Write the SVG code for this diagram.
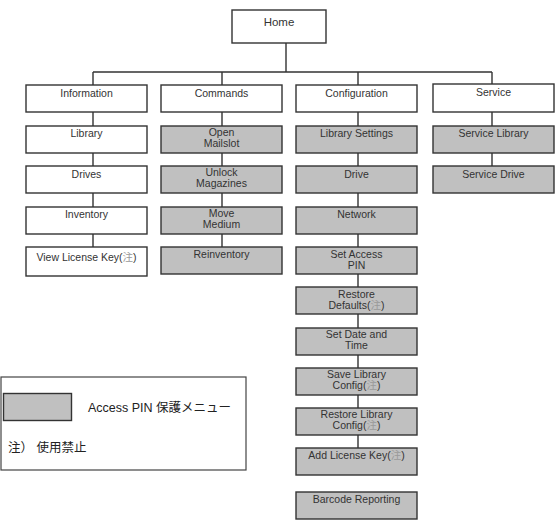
<svg xmlns="http://www.w3.org/2000/svg" width="556" height="528" viewBox="0 0 556 528">
<style>
.n{fill:#fff;stroke:#333;stroke-width:1.4}
.g{fill:#c0c0c0;stroke:#333;stroke-width:1.4}
.t{font-family:"Liberation Sans","Noto Sans CJK JP",sans-serif;font-size:10.5px;fill:#333;text-anchor:middle}
.c{stroke:#333;stroke-width:1.4;fill:none}
.k{fill:#999}
.lg{font-family:"Liberation Sans","Noto Sans CJK JP",sans-serif;font-size:12.5px;fill:#222}
</style>
<rect width="556" height="528" fill="#fff"/>
<g id="connectors">
<path class="c" d="M286 43V72M93 72H492M93 72V247M222 72V247M358 72V448M492 72V166"/>
</g>
<g id="home"><rect class="n" x="232" y="10" width="94" height="33"/><text class="t" x="279" y="26" style="font-size:11.5px">Home</text></g>
<g id="information"><rect class="n" x="26" y="85" width="121" height="27"/><text class="t" x="86.5" y="97">Information</text></g>
<g id="library"><rect class="n" x="26" y="126" width="121" height="27"/><text class="t" x="86.5" y="137">Library</text></g>
<g id="drives"><rect class="n" x="26" y="166" width="121" height="27"/><text class="t" x="86.5" y="178">Drives</text></g>
<g id="inventory"><rect class="n" x="26" y="207" width="121" height="27"/><text class="t" x="86.5" y="218">Inventory</text></g>
<g id="view-license-key"><rect class="n" x="26" y="247" width="121" height="29"/><text class="t" x="86.5" y="261">View License Key(<tspan class="k">注</tspan>)</text></g>
<g id="commands"><rect class="n" x="161" y="85" width="121" height="27"/><text class="t" x="221.5" y="97">Commands</text></g>
<g id="open-mailslot"><rect class="g" x="161" y="126" width="121" height="27"/><text class="t" x="221.5" y="135.5">Open</text><text class="t" x="221.5" y="146.5">Mailslot</text></g>
<g id="unlock-magazines"><rect class="g" x="161" y="166" width="121" height="27"/><text class="t" x="221.5" y="176">Unlock</text><text class="t" x="221.5" y="187">Magazines</text></g>
<g id="move-medium"><rect class="g" x="161" y="207" width="121" height="27"/><text class="t" x="221.5" y="217">Move</text><text class="t" x="221.5" y="228">Medium</text></g>
<g id="reinventory"><rect class="g" x="161" y="247" width="121" height="27"/><text class="t" x="221.5" y="257.5">Reinventory</text></g>
<g id="configuration"><rect class="n" x="296" y="85" width="121" height="27"/><text class="t" x="356.5" y="97">Configuration</text></g>
<g id="library-settings"><rect class="g" x="296" y="126" width="121" height="27"/><text class="t" x="356.5" y="137">Library Settings</text></g>
<g id="drive"><rect class="g" x="296" y="166" width="121" height="27"/><text class="t" x="356.5" y="178">Drive</text></g>
<g id="network"><rect class="g" x="296" y="207" width="121" height="27"/><text class="t" x="356.5" y="218">Network</text></g>
<g id="set-access-pin"><rect class="g" x="296" y="247" width="121" height="27"/><text class="t" x="356.5" y="258">Set Access</text><text class="t" x="356.5" y="269">PIN</text></g>
<g id="restore-defaults"><rect class="g" x="296" y="287" width="121" height="27"/><text class="t" x="356.5" y="298">Restore</text><text class="t" x="356.5" y="309">Defaults(<tspan class="k">注</tspan>)</text></g>
<g id="set-date-time"><rect class="g" x="296" y="328" width="121" height="27"/><text class="t" x="356.5" y="338">Set Date and</text><text class="t" x="356.5" y="349">Time</text></g>
<g id="save-library-config"><rect class="g" x="296" y="368" width="121" height="27"/><text class="t" x="356.5" y="378">Save Library</text><text class="t" x="356.5" y="389">Config(<tspan class="k">注</tspan>)</text></g>
<g id="restore-library-config"><rect class="g" x="296" y="408" width="121" height="27"/><text class="t" x="356.5" y="418">Restore Library</text><text class="t" x="356.5" y="429">Config(<tspan class="k">注</tspan>)</text></g>
<g id="add-license-key"><rect class="g" x="296" y="448" width="121" height="27"/><text class="t" x="356.5" y="458.5">Add License Key(<tspan class="k">注</tspan>)</text></g>
<g id="barcode-reporting"><rect class="g" x="296" y="492" width="121" height="27"/><text class="t" x="356.5" y="502.5">Barcode Reporting</text></g>
<g id="service"><rect class="n" x="433" y="84" width="121" height="28"/><text class="t" x="493.5" y="95.5">Service</text></g>
<g id="service-library"><rect class="g" x="433" y="126" width="121" height="27"/><text class="t" x="493.5" y="137">Service Library</text></g>
<g id="service-drive"><rect class="g" x="433" y="166" width="121" height="27"/><text class="t" x="493.5" y="178">Service Drive</text></g>
<g id="legend">
<rect x="1" y="377" width="245" height="93" fill="#fff" stroke="#444" stroke-width="1.2"/>
<rect class="g" x="3.5" y="393.5" width="68" height="27"/>
<text class="lg" x="88" y="412">Access PIN 保護メニュー</text>
<text class="lg" x="8" y="452">注） 使用禁止</text>
</g>
</svg>
